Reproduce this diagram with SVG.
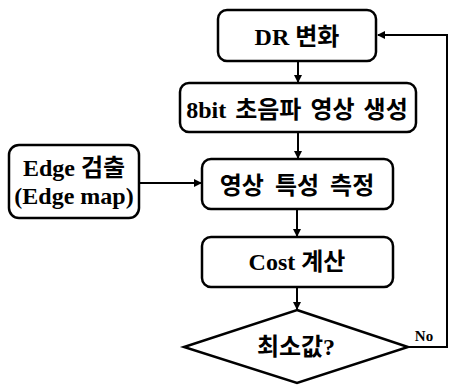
<svg xmlns="http://www.w3.org/2000/svg" width="449" height="387" viewBox="0 0 449 387">
<defs>
<style>
.box{fill:#fff;stroke:#000;stroke-width:2.5}
.t{font-family:"Liberation Serif","Noto Sans CJK KR",serif;font-weight:bold;font-size:24px;text-anchor:middle;fill:#000}
.c{fill:none;stroke:#000;stroke-width:2}
</style>
<marker id="ah" markerWidth="8" markerHeight="8" refX="7" refY="4" orient="auto" markerUnits="userSpaceOnUse">
<path d="M0,0 L8,4 L0,8 Z" fill="#000"/>
</marker>
</defs>
<rect width="449" height="387" fill="#fff"/>
<g id="connectors">
<line class="c" x1="298" y1="61" x2="298" y2="82" marker-end="url(#ah)"/>
<line class="c" x1="298" y1="132" x2="298" y2="158" marker-end="url(#ah)"/>
<line class="c" x1="139" y1="183" x2="201" y2="183" marker-end="url(#ah)"/>
<line class="c" x1="297" y1="209" x2="297" y2="236" marker-end="url(#ah)"/>
<line class="c" x1="297" y1="287" x2="297" y2="309" marker-end="url(#ah)"/>
<polyline class="c" points="408,347 447,347 447,35 378,35" marker-end="url(#ah)"/>
<text x="424" y="341" font-family="Liberation Serif,serif" font-weight="bold" font-size="15" text-anchor="middle">No</text>
</g>
<g id="n1">
<rect class="box" x="218" y="10" width="158" height="51" rx="9"/>
<text class="t" x="297" y="45">DR 변화</text>
</g>
<g id="n2">
<rect class="box" x="180" y="83" width="236" height="49" rx="9"/>
<text class="t" x="297" y="118" word-spacing="3">8bit 초음파 영상 생성</text>
</g>
<g id="n3">
<rect class="box" x="202" y="159" width="191" height="50" rx="9"/>
<text class="t" x="297" y="194" word-spacing="5">영상 특성 측정</text>
</g>
<g id="edge">
<rect class="box" x="9" y="145" width="130" height="73" rx="10"/>
<text class="t" x="74" y="176">Edge 검출</text>
<text class="t" x="74" y="204">(Edge map)</text>
</g>
<g id="n4">
<rect class="box" x="202" y="237" width="191" height="50" rx="9"/>
<text class="t" x="297" y="270">Cost 계산</text>
</g>
<g id="n5">
<polygon class="box" points="297,310 408,347 297,383 184,347"/>
<text class="t" x="296" y="355">최소값?</text>
</g>
</svg>
